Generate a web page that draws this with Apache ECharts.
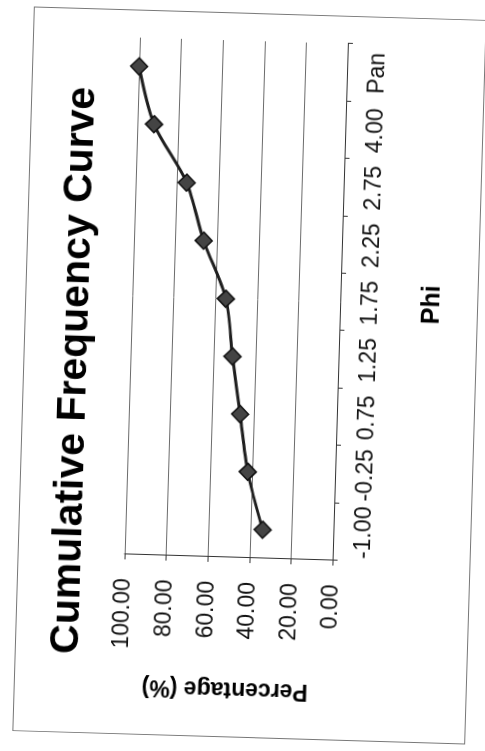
<!DOCTYPE html>
<html lang="en">
<head>
    <meta charset="UTF-8">
    <title>Cumulative Frequency Curve</title>
    <script src="https://cdn.jsdelivr.net/npm/echarts@6/dist/echarts.min.js"></script>
    <style>
        html, body { margin: 0; padding: 0; background: #fff; overflow: hidden; }
        /* the scanned page is turned on its side, so the whole chart is rotated */
        #main {
            position: absolute;
            width: 725px; height: 453px;
            left: -113.5px; top: 148.75px;
            transform: rotate(-88.3deg);
            transform-origin: 50% 50%;
            border: 1px solid #777;
            box-sizing: border-box;
            background: #fff;
        }
    </style>
</head>
<body>
<div id="main"></div>
<script type="text/javascript">
    // Phi classes on the category axis
    var phiClasses = ['-1.00', '-0.25', '0.75', '1.25', '1.75', '2.25', '2.75', '4.00', 'Pan'];
    // cumulative percentage
    var cumPercent = [34, 42, 46.5, 51, 55, 66.5, 75.5, 92, 100];
    // value axis ticks
    var percentTicks = [0, 20, 40, 60, 80, 100];

    var fontFam = '"Liberation Sans", Arial, sans-serif';

    var myChart = echarts.init(document.getElementById('main'));

    myChart.setOption({
        animation: false,
        title: {
            text: 'Cumulative Frequency Curve',
            left: 'center',
            top: 25,
            textStyle: { fontFamily: fontFam, fontSize: 41, fontWeight: 'bold', color: '#000' }
        },
        grid: { left: 179, right: 27, top: 106, bottom: 137 },
        xAxis: {
            type: 'category',
            data: phiClasses,
            boundaryGap: true,
            name: 'Phi',
            nameLocation: 'middle',
            nameGap: 80,
            nameTextStyle: { fontFamily: fontFam, fontSize: 25, fontWeight: 'bold', color: '#000' },
            axisLine: { lineStyle: { color: '#333', width: 1 } },
            axisTick: { show: true, length: 5, lineStyle: { color: '#333' } },
            axisLabel: { interval: 0, margin: 19, fontFamily: fontFam, fontSize: 23, color: '#111' }
        },
        yAxis: {
            type: 'value',
            min: percentTicks[0],
            max: percentTicks[percentTicks.length - 1],
            interval: 20,
            name: 'Percentage (%)',
            nameLocation: 'middle',
            nameRotate: 90,
            nameGap: 120,
            nameTextStyle: { fontFamily: fontFam, fontSize: 23, fontWeight: 'bold', color: '#000' },
            axisLine: { show: true, lineStyle: { color: '#333', width: 1 } },
            axisTick: { show: true, length: 5, lineStyle: { color: '#333' } },
            splitLine: { lineStyle: { color: '#6b6b6b', width: 1 } },
            axisLabel: {
                margin: 24, fontFamily: fontFam, fontSize: 23, color: '#111',
                formatter: function (v) { return v.toFixed(2); }
            }
        },
        series: [{
            name: 'Cumulative %',
            type: 'line',
            data: cumPercent,
            smooth: 0.3,
            symbol: 'diamond',
            symbolSize: 17,
            lineStyle: { color: '#1f1f1f', width: 3 },
            itemStyle: { color: '#444', borderColor: '#111', borderWidth: 1.5 }
        }]
    });
</script>
</body>
</html>
